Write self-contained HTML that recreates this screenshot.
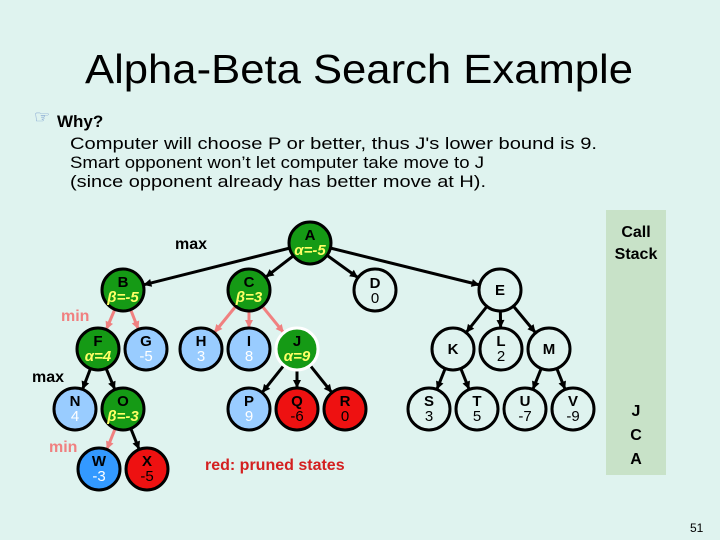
<!DOCTYPE html>
<html><head><meta charset="utf-8"><style>
html,body{margin:0;padding:0;background:#dff3ef}
svg{display:block}
text{font-family:"Liberation Sans",sans-serif}
</style></head><body>
<svg width="720" height="540" viewBox="0 0 720 540" xmlns="http://www.w3.org/2000/svg">
<defs>
<marker id="ab" markerUnits="userSpaceOnUse" markerWidth="60" markerHeight="20" viewBox="-40 -10 60 20" refX="21" refY="0" orient="auto" overflow="visible"><path d="M0,0 L-8,-4 L-8,4 Z" fill="#000"/></marker>
<marker id="ap" markerUnits="userSpaceOnUse" markerWidth="60" markerHeight="20" viewBox="-40 -10 60 20" refX="21" refY="0" orient="auto" overflow="visible"><path d="M0,0 L-8,-4 L-8,4 Z" fill="#f08080"/></marker>
</defs>
<rect width="720" height="540" fill="#dff3ef"/>
<rect x="606" y="210" width="60" height="265" fill="#c8e2c8"/>
<text x="636" y="237" font-size="16" font-weight="bold" text-anchor="middle">Call</text>
<text x="636" y="259" font-size="16" font-weight="bold" text-anchor="middle">Stack</text>
<text x="636" y="416" font-size="16" font-weight="bold" text-anchor="middle">J</text>
<text x="636" y="440" font-size="16" font-weight="bold" text-anchor="middle">C</text>
<text x="636" y="464" font-size="16" font-weight="bold" text-anchor="middle">A</text>

<text x="359" y="83" font-size="41" text-anchor="middle" textLength="548" lengthAdjust="spacingAndGlyphs">Alpha-Beta Search Example</text>
<text x="34" y="123" font-size="18" fill="#6a8fc8">☞</text>
<text x="57" y="127" font-size="17" font-weight="bold">Why?</text>
<text x="70" y="149" font-size="17" textLength="527" lengthAdjust="spacingAndGlyphs">Computer will choose P or better, thus J's lower bound is 9.</text>
<text x="70" y="168" font-size="17" textLength="414" lengthAdjust="spacingAndGlyphs">Smart opponent won’t let computer take move to J</text>
<text x="70" y="187" font-size="17" textLength="416" lengthAdjust="spacingAndGlyphs">(since opponent already has better move at H).</text>

<g stroke-width="3" fill="none">
<g stroke="#000" marker-end="url(#ab)">
<line x1="310" y1="243" x2="123" y2="290"/>
<line x1="310" y1="243" x2="249" y2="290"/>
<line x1="310" y1="243" x2="375" y2="290"/>
<line x1="310" y1="243" x2="500" y2="290"/>
<line x1="98" y1="349" x2="75" y2="409"/>
<line x1="98" y1="349" x2="123" y2="409"/>
<line x1="297" y1="349" x2="249" y2="409"/>
<line x1="297" y1="349" x2="297" y2="409"/>
<line x1="297" y1="349" x2="345" y2="409"/>
<line x1="500" y1="290" x2="453" y2="349"/>
<line x1="500" y1="290" x2="501" y2="349"/>
<line x1="500" y1="290" x2="549" y2="349"/>
<line x1="453" y1="349" x2="429" y2="409"/>
<line x1="453" y1="349" x2="477" y2="409"/>
<line x1="549" y1="349" x2="525" y2="409"/>
<line x1="549" y1="349" x2="573" y2="409"/>
<line x1="123" y1="409" x2="147" y2="469"/>
</g>
<g stroke="#f08080" marker-end="url(#ap)">
<line x1="123" y1="290" x2="98" y2="349"/>
<line x1="123" y1="290" x2="146" y2="349"/>
<line x1="249" y1="290" x2="201" y2="349"/>
<line x1="249" y1="290" x2="249" y2="349"/>
<line x1="249" y1="290" x2="297" y2="349"/>
<line x1="123" y1="409" x2="99" y2="469"/>
</g>
</g>

<g stroke="#000" stroke-width="3">
<circle cx="310" cy="243" r="21" fill="#159a15"/>
<circle cx="123" cy="290" r="21" fill="#159a15"/>
<circle cx="249" cy="290" r="21" fill="#159a15"/>
<circle cx="375" cy="290" r="21" fill="#dff3ef"/>
<circle cx="500" cy="290" r="21" fill="#dff3ef"/>
<circle cx="98" cy="349" r="21" fill="#159a15"/>
<circle cx="146" cy="349" r="21" fill="#99ccff"/>
<circle cx="201" cy="349" r="21" fill="#99ccff"/>
<circle cx="249" cy="349" r="21" fill="#99ccff"/>
<circle cx="297" cy="349" r="21" fill="#159a15" stroke="#fff"/>
<circle cx="453" cy="349" r="21" fill="#dff3ef"/>
<circle cx="501" cy="349" r="21" fill="#dff3ef"/>
<circle cx="549" cy="349" r="21" fill="#dff3ef"/>
<circle cx="75" cy="409" r="21" fill="#99ccff"/>
<circle cx="123" cy="409" r="21" fill="#159a15"/>
<circle cx="249" cy="409" r="21" fill="#99ccff"/>
<circle cx="297" cy="409" r="21" fill="#ee1111"/>
<circle cx="345" cy="409" r="21" fill="#ee1111"/>
<circle cx="429" cy="409" r="21" fill="#dff3ef"/>
<circle cx="477" cy="409" r="21" fill="#dff3ef"/>
<circle cx="525" cy="409" r="21" fill="#dff3ef"/>
<circle cx="573" cy="409" r="21" fill="#dff3ef"/>
<circle cx="99" cy="469" r="21" fill="#3399ff"/>
<circle cx="147" cy="469" r="21" fill="#ee1111"/>
</g>

<g font-size="15" font-weight="bold" text-anchor="middle">
<text x="310" y="240">A</text><text x="310" y="255" fill="#ffff66" font-style="italic">α=-5</text>
<text x="123" y="287">B</text><text x="123" y="302" fill="#ffff66" font-style="italic">β=-5</text>
<text x="249" y="287">C</text><text x="249" y="302" fill="#ffff66" font-style="italic">β=3</text>
<text x="375" y="288">D</text><text x="375" y="303" font-weight="normal">0</text>
<text x="500" y="295">E</text>
<text x="98" y="346">F</text><text x="98" y="361" fill="#ffff66" font-style="italic">α=4</text>
<text x="146" y="346">G</text><text x="146" y="361" fill="#fff" font-weight="normal">-5</text>
<text x="201" y="346">H</text><text x="201" y="361" fill="#fff" font-weight="normal">3</text>
<text x="249" y="346">I</text><text x="249" y="361" fill="#fff" font-weight="normal">8</text>
<text x="297" y="346">J</text><text x="297" y="361" fill="#ffff66" font-style="italic">α=9</text>
<text x="453" y="354">K</text>
<text x="501" y="346">L</text><text x="501" y="361" font-weight="normal">2</text>
<text x="549" y="354">M</text>
<text x="75" y="406">N</text><text x="75" y="421" fill="#fff" font-weight="normal">4</text>
<text x="123" y="406">O</text><text x="123" y="421" fill="#ffff66" font-style="italic">β=-3</text>
<text x="249" y="406">P</text><text x="249" y="421" fill="#fff" font-weight="normal">9</text>
<text x="297" y="406">Q</text><text x="297" y="421" font-weight="normal">-6</text>
<text x="345" y="406">R</text><text x="345" y="421" font-weight="normal">0</text>
<text x="429" y="406">S</text><text x="429" y="421" font-weight="normal">3</text>
<text x="477" y="406">T</text><text x="477" y="421" font-weight="normal">5</text>
<text x="525" y="406">U</text><text x="525" y="421" font-weight="normal">-7</text>
<text x="573" y="406">V</text><text x="573" y="421" font-weight="normal">-9</text>
<text x="99" y="466">W</text><text x="99" y="481" fill="#fff" font-weight="normal">-3</text>
<text x="147" y="466">X</text><text x="147" y="481" font-weight="normal">-5</text>
</g>

<g font-size="16" font-weight="bold">
<text x="175" y="249">max</text>
<text x="61" y="321" fill="#f08080">min</text>
<text x="32" y="382">max</text>
<text x="49" y="452" fill="#f08080">min</text>
<text x="205" y="470" fill="#d42020">red: pruned states</text>
</g>
<text x="690" y="532" font-size="12">51</text>
</svg>
</body></html>
